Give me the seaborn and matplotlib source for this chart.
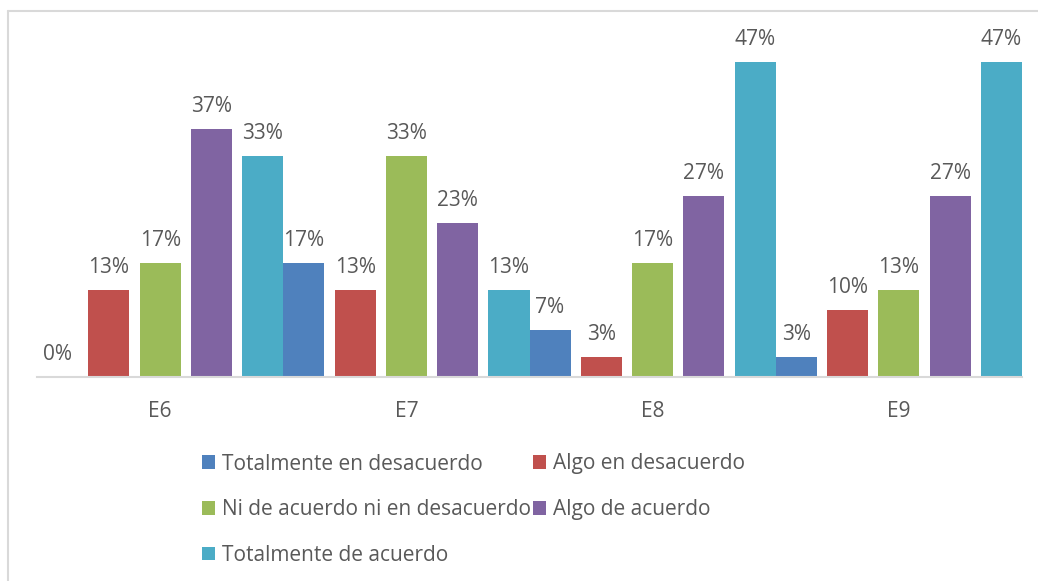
import pandas as pd
import seaborn as sns
import matplotlib.pyplot as plt
from matplotlib.lines import Line2D
from matplotlib.patches import Patch

# --- datos ---
preguntas = ['E6', 'E7', 'E8', 'E9']
respuestas = ['Totalmente en desacuerdo', 'Algo en desacuerdo',
              'Ni de acuerdo ni en desacuerdo', 'Algo de acuerdo',
              'Totalmente de acuerdo']
totalmente_desacuerdo = [0, 17, 7, 3]
algo_desacuerdo = [13, 13, 3, 10]
ni_acuerdo_ni_desacuerdo = [17, 33, 17, 13]
algo_acuerdo = [37, 23, 27, 27]
totalmente_acuerdo = [33, 13, 47, 47]
colores = ['#4F81BD', '#C0504D', '#9BBB59', '#8064A2', '#4BACC6']

series = [totalmente_desacuerdo, algo_desacuerdo, ni_acuerdo_ni_desacuerdo,
          algo_acuerdo, totalmente_acuerdo]
filas = []
for resp, vals in zip(respuestas, series):
    for preg, v in zip(preguntas, vals):
        filas.append({'Pregunta': preg, 'Respuesta': resp, 'Porcentaje': v})
df = pd.DataFrame(filas)

# --- estilo ---
sns.set_style('white')
plt.rcParams['font.family'] = ['Open Sans', 'DejaVu Sans']
texto = '#595959'
gris = '#D9D9D9'
fs = 15

W, H = 1038, 581
fig = plt.figure(figsize=(W / 100, H / 100), dpi=100)
ax = fig.add_axes([37 / W, 1 - 377 / H, (1022 - 37) / W, (377 - 42) / H])

sns.barplot(data=df, x='Pregunta', y='Porcentaje', hue='Respuesta',
            order=preguntas, hue_order=respuestas, palette=colores,
            saturation=1, width=25 / 24, gap=0.2, linewidth=0,
            legend=False, ax=ax)

for cont, vals in zip(ax.containers, series):
    ax.bar_label(cont, labels=[f'{v}%' for v in vals], padding=8.5,
                 fontsize=fs, color=texto)

ax.set_xlim(-0.5, 3.5)
ax.set_ylim(0, 50)
ax.set_xlabel('')
ax.set_ylabel('')
ax.set_yticks([])
for lado in ['top', 'right', 'left']:
    ax.spines[lado].set_visible(False)
ax.spines['bottom'].set_color(gris)
ax.spines['bottom'].set_linewidth(1.5)
ax.tick_params(axis='x', length=0, pad=17, labelsize=fs, labelcolor=texto)

# --- leyenda ---
handles = [Patch(facecolor=c, edgecolor='none') for c in colores]
orden = [0, 2, 4, 1, 3]
fig.legend([handles[i] for i in orden], [respuestas[i] for i in orden],
           ncol=2, loc='upper left', bbox_to_anchor=(202 / W, 1 - 453.5 / H),
           frameon=False, fontsize=fs, labelcolor=texto,
           handlelength=0.63, handleheight=0.63, handletextpad=0.34,
           columnspacing=0.08, labelspacing=1.18, borderpad=0,
           borderaxespad=0)

# --- marco del gráfico ---
fig.add_artist(Line2D([8 / W, 8 / W], [0, 1 - 11 / H], transform=fig.transFigure,
                      color=gris, lw=1.5))
fig.add_artist(Line2D([8 / W, 1], [1 - 11 / H, 1 - 11 / H], transform=fig.transFigure,
                      color=gris, lw=1.5))

fig.savefig('out.png', dpi=100)
